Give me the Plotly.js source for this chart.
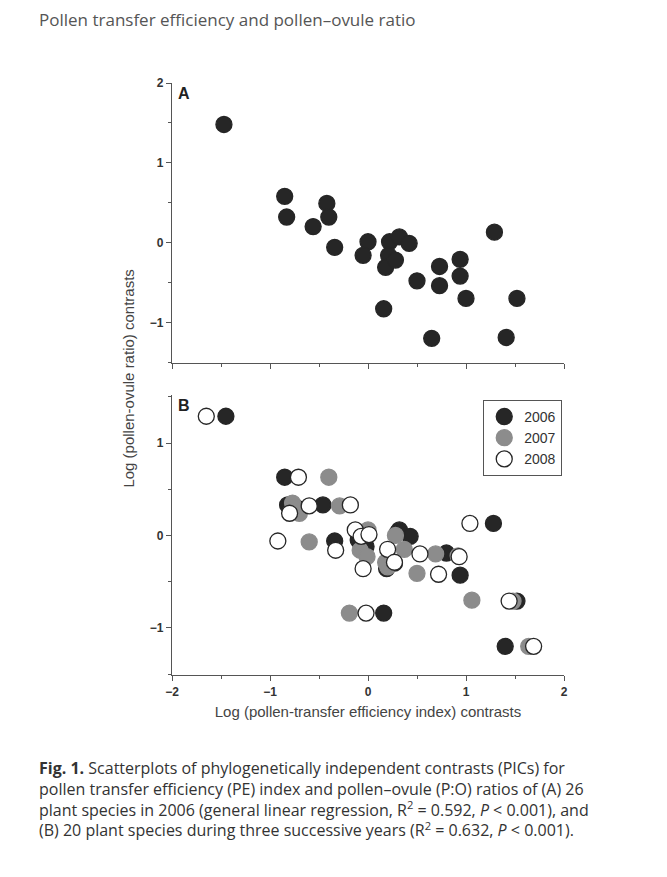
<!DOCTYPE html>
<html><head><meta charset="utf-8">
<script src="https://cdn.plot.ly/plotly-3.0.1.min.js"></script>
<style>body{margin:0;background:#fff}</style></head>
<body><div id="chart" style="width:667px;height:877px"></div>
<script>
// Panel A: 26 species, 2006
const aX = [-1.47,-0.85,-0.83,-0.56,-0.42,-0.40,-0.34,0.00,-0.05,0.22,0.32,0.42,0.21,0.18,0.28,0.50,0.16,0.65,0.73,0.73,0.94,0.94,1.00,1.29,1.41,1.52];
const aY = [1.48,0.58,0.32,0.20,0.49,0.32,-0.06,0.01,-0.16,0.01,0.07,-0.01,-0.16,-0.31,-0.22,-0.48,-0.83,-1.20,-0.30,-0.54,-0.21,-0.42,-0.70,0.13,-1.19,-0.70];

// Panel B: 20 species, three years
const b06X = [-1.45,-0.85,-0.82,-0.46,-0.34,0.32,0.43,1.28,0.23,0.80,0.94,0.16,1.52,1.40,-0.02,0.27,-0.10,0.30,0.19,-0.73];
const b06Y = [1.29,0.63,0.33,0.33,-0.06,0.06,-0.01,0.13,-0.28,-0.19,-0.43,-0.84,-0.71,-1.20,-0.12,-0.30,-0.05,0.03,-0.36,0.30];
const b07X = [-0.40,-0.77,-0.70,-0.29,-0.60,0.00,-0.08,-0.01,0.28,0.37,0.20,0.69,0.50,1.06,-0.19,1.64,0.18,-0.75,0.92,1.48];
const b07Y = [0.63,0.35,0.24,0.32,-0.07,0.06,-0.16,-0.23,0.00,-0.15,-0.34,-0.20,-0.41,-0.70,-0.84,-1.20,-0.29,0.30,-0.22,-0.71];
const b08X = [-1.65,-0.71,-0.80,-0.60,-0.18,-0.92,-0.33,-0.13,-0.07,0.01,-0.05,-0.02,0.20,0.27,0.53,0.72,0.93,1.04,1.44,1.69];
const b08Y = [1.29,0.63,0.24,0.32,0.33,-0.06,-0.16,0.06,-0.01,0.01,-0.36,-0.84,-0.15,-0.29,-0.20,-0.42,-0.23,0.13,-0.71,-1.20];

const years = ['2006','2007','2008'];
const ink = '#262626';

function pts(x, y, name, color, axis, show) {
    return {
        x: x, y: y, name: name, type: 'scatter', mode: 'markers',
        xaxis: axis[0], yaxis: axis[1], showlegend: show,
        marker: { size: 16, color: color, line: { color: ink, width: 1.3 } }
    };
}

const data = [
    pts(aX, aY, 'A', ink, ['x2','y2'], false),
    pts(b06X, b06Y, years[0], ink, ['x','y'], true),
    pts(b07X, b07Y, years[1], '#8c8c8c', ['x','y'], true),
    pts(b08X, b08Y, years[2], '#ffffff', ['x','y'], true)
];
data[2].marker.line.color = '#8c8c8c';

const axBase = {
    showgrid: false, zeroline: false, showline: true, linecolor: '#555', linewidth: 1.2,
    ticks: 'outside', ticklen: 5, tickcolor: '#555', dtick: 1,
    minor: { dtick: 0.5, ticks: 'outside', ticklen: 3, tickcolor: '#555' },
    tickfont: { family: 'Liberation Sans', size: 12, color: '#333', weight: 'bold' }
};

const layout = {
    width: 667, height: 877,
    margin: { l: 172, r: 103, t: 83, b: 202 },
    paper_bgcolor: '#fff', plot_bgcolor: '#fff',
    xaxis: Object.assign({}, axBase, { range: [-2, 2], anchor: 'y',
        tickvals: [-2,-1,0,1,2], ticktext: ['\u22122','\u22121','0','1','2'],
        title: { text: 'Log (pollen-transfer efficiency index) contrasts', standoff: 8,
                 font: { family: 'Liberation Sans', size: 15, color: '#444' } } }),
    yaxis: Object.assign({}, axBase, { range: [-1.51, 1.52], domain: [0, 0.473], anchor: 'x',
        tickvals: [-1,0,1], ticktext: ['\u22121','0','1'] }),
    xaxis2: Object.assign({}, axBase, { range: [-2, 2], anchor: 'y2', showticklabels: false }),
    yaxis2: Object.assign({}, axBase, { range: [-1.51, 2], domain: [0.527, 1], anchor: 'x2',
        tickvals: [-1,0,1,2], ticktext: ['\u22121','0','1','2'] }),
    legend: { x: 0.995, y: 0.465, xanchor: 'right', yanchor: 'top', bordercolor: '#555', borderwidth: 1.2,
              bgcolor: '#fff', font: { family: 'Liberation Sans', size: 14, color: '#333' }, tracegroupgap: 0,
              itemwidth: 30 },
    annotations: [
        { text: 'Pollen transfer efficiency and pollen\u2013ovule ratio', xref: 'paper', yref: 'paper',
          x: -0.345, y: 1.13, xanchor: 'left', showarrow: false,
          font: { family: 'Open Sans', size: 17, color: '#555' } },
        { text: '<b>A</b>', xref: 'paper', yref: 'paper', x: 0.01, y: 1.0, xanchor: 'left', yanchor: 'top',
          showarrow: false, font: { family: 'Liberation Sans', size: 16, color: '#222' } },
        { text: '<b>B</b>', xref: 'paper', yref: 'paper', x: 0.01, y: 0.473, xanchor: 'left', yanchor: 'top',
          showarrow: false, font: { family: 'Liberation Sans', size: 16, color: '#222' } },
        { text: 'Log (pollen-ovule ratio) contrasts', xref: 'paper', yref: 'paper', x: -0.14, y: 0.5,
          textangle: -90, showarrow: false, font: { family: 'Liberation Sans', size: 15, color: '#444' } },
        { text: '<b>Fig. 1.</b> Scatterplots of phylogenetically independent contrasts (PICs) for<br>' +
                'pollen transfer efficiency (PE) index and pollen\u2013ovule (P:O) ratios of (A) 26<br>' +
                'plant species in 2006 (general linear regression, R<sup>2</sup> = 0.592, <i>P</i> < 0.001), and<br>' +
                '(B) 20 plant species during three successive years (R<sup>2</sup> = 0.632, <i>P</i> < 0.001).',
          xref: 'paper', yref: 'paper', x: -0.345, y: -0.135, xanchor: 'left', yanchor: 'top', align: 'left',
          showarrow: false, font: { family: 'Open Sans', size: 16, color: '#333' } }
    ]
};

Plotly.newPlot('chart', data, layout, { displayModeBar: false });
</script></body></html>
